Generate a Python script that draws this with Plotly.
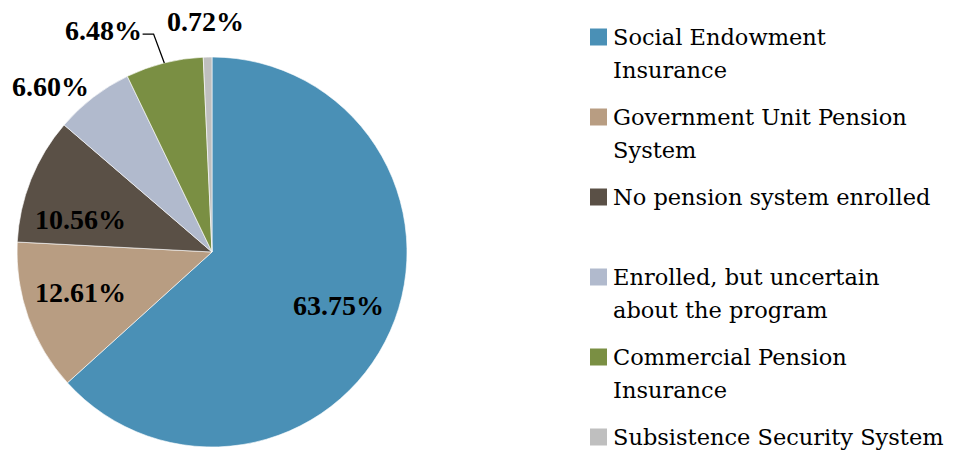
import math
import plotly.graph_objects as go

# Pension enrolment shares (%)
categories = [
    "Social Endowment Insurance",
    "Government Unit Pension System",
    "No pension system enrolled",
    "Enrolled, but uncertain about the program",
    "Commercial Pension Insurance",
    "Subsistence Security System",
]
values = [63.75, 12.61, 10.56, 6.60, 6.48, 0.72]
legend_lines = [
    ["Social Endowment", "Insurance"],
    ["Government Unit Pension", "System"],
    ["No pension system enrolled"],
    ["Enrolled, but uncertain", "about the program"],
    ["Commercial Pension", "Insurance"],
    ["Subsistence Security System"],
]
colors = ["#4A90B6", "#B89D82", "#5A5046", "#B1BACD", "#7A8F43", "#BFBFBF"]

W, H = 953, 452
CX, CY, R = 212, 252, 195  # pie centre and radius in pixels


def px_to_paper(x, y):
    return x / W, 1 - y / H


def polar(angle_deg, frac):
    a = math.radians(angle_deg)
    return CX + R * frac * math.sin(a), CY - R * frac * math.cos(a)


fig = go.Figure(
    go.Pie(
        labels=categories,
        values=values,
        sort=False,
        direction="clockwise",
        rotation=0,
        marker=dict(colors=colors, line=dict(color="rgba(255,255,255,0.6)", width=1)),
        textinfo="none",
        hoverinfo="label+percent",
        showlegend=False,
        domain=dict(
            x=[(CX - R) / W, (CX + R) / W],
            y=[1 - (CY + R) / H, 1 - (CY - R) / H],
        ),
    )
)

# mid-angle of each slice (degrees clockwise from 12 o'clock)
total = sum(values)
mids = []
acc = 0.0
for v in values:
    mids.append((acc + v / 2) / total * 360)
    acc += v

# per-label placement: (angle nudge, radial fraction, x shift px)
label_place = [(-1.0, 0.703, 0), (2.7, 0.707, 0), (-8.4, 0.708, 3),
               (-8.1, 1.212, 7), (-12.9, 1.277, 5), (-0.4, 1.185, 0)]

annotations = []
for v, m, (dn, fr, xs) in zip(values, mids, label_place):
    x, y = polar(m + dn, fr)
    px, py = px_to_paper(x, y)
    annotations.append(dict(
        x=px, y=py, xref="paper", yref="paper", showarrow=False, xshift=xs,
        text=f"<b>{v:.2f}%</b>", xanchor="center", yanchor="middle",
        font=dict(family="Liberation Serif", size=28, color="#000000"),
    ))

# leader line for the Commercial Pension slice label
sx, sy = polar(mids[4], 1.0)
ex, ey = polar(mids[4] - 0.85, 1.157)
hx, hy = ex - 11, ey
p = [px_to_paper(*pt) for pt in [(sx, sy), (ex, ey), (hx, hy)]]
shapes = [dict(
    type="path", xref="paper", yref="paper",
    path=f"M {p[0][0]} {p[0][1]} L {p[1][0]} {p[1][1]} L {p[2][0]} {p[2][1]}",
    line=dict(color="#000000", width=1.3),
)]

# legend: square swatch + text lines
LEG_X, LEG_Y0, LEG_STEP, LINE_H, SW = 590, 37, 80, 33, 17
for i, (lines, c) in enumerate(zip(legend_lines, colors)):
    yc = LEG_Y0 + i * LEG_STEP
    x0, y0 = px_to_paper(LEG_X, yc - SW / 2)
    x1, y1 = px_to_paper(LEG_X + SW, yc + SW / 2)
    shapes.append(dict(type="rect", xref="paper", yref="paper",
                       x0=x0, x1=x1, y0=y1, y1=y0, fillcolor=c, line=dict(width=0)))
    for j, t in enumerate(lines):
        tx, ty = px_to_paper(LEG_X + SW + 4, yc + j * LINE_H)
        annotations.append(dict(
            x=tx, y=ty, xref="paper", yref="paper", showarrow=False,
            text=t, xanchor="left", yanchor="middle",
            font=dict(family="DejaVu Serif", size=22.5, color="#000000"),
        ))

fig.update_layout(
    width=W, height=H,
    margin=dict(l=0, r=0, t=0, b=0),
    paper_bgcolor="white", plot_bgcolor="white",
    annotations=annotations, shapes=shapes,
)

fig.write_html("out.html")
